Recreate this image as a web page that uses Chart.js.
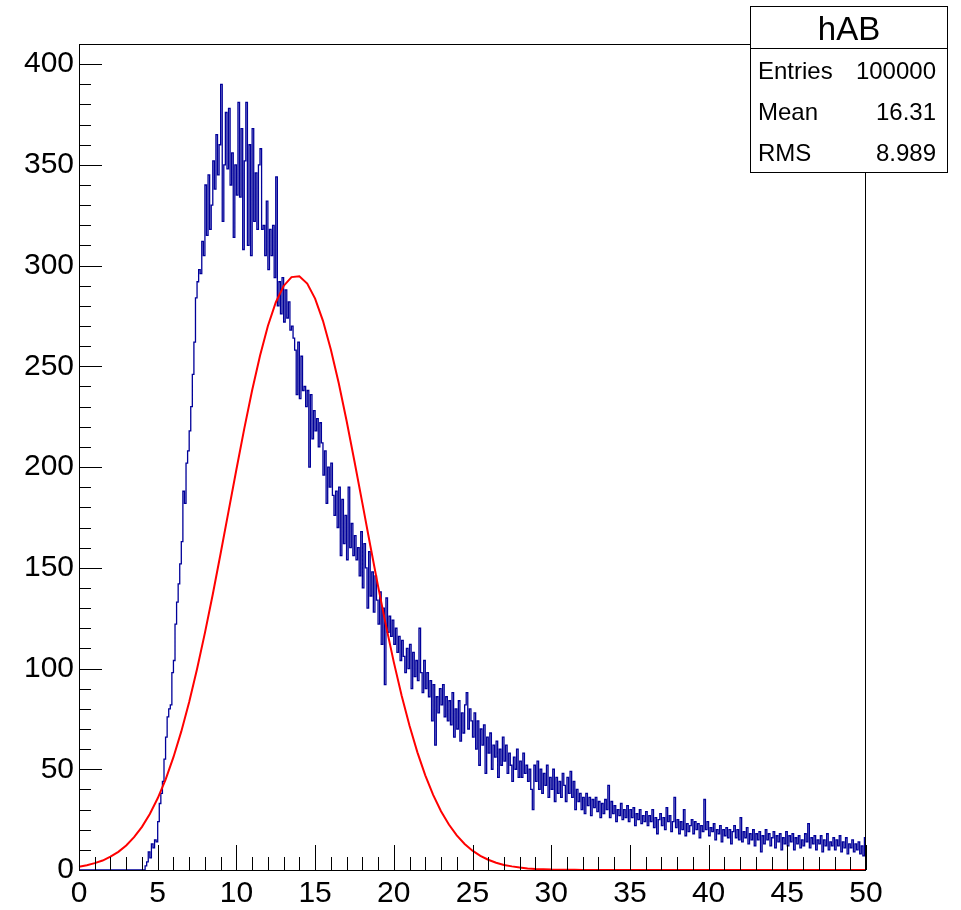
<!DOCTYPE html>
<html>
<head>
<meta charset="utf-8">
<script src="https://cdn.jsdelivr.net/npm/chart.js@4"></script>
<style>
  html, body { margin: 0; padding: 0; background: #fff; }
  #wrap { width: 961px; height: 910px; }
</style>
</head>
<body>
<div id="wrap"><canvas id="myChart" width="961" height="910"></canvas></div>
<script>
// histogram hAB, bins of 0.1 from 0 to 50
const binWidth = 0.1
const hABCounts = [
  0,0,0,0,0,0,0,0,0,0,
  0,0,0,0,0,0,0,0,0,0,
  0,0,0,0,0,0,0,0,0,0,
  0,0,0,0,0,0,0,0,0,0,
  0,0,2,4,9,6,13,11,15,14,
  24,33,38,44,55,66,76,80,82,98,
  104,122,133,142,152,163,188,182,202,208,
  218,230,246,262,284,292,298,296,312,305,
  340,315,345,318,330,352,338,365,345,360,
  390,322,350,376,348,378,340,356,314,350,
  335,381,334,368,308,352,381,310,360,305,
  368,322,346,318,350,358,318,320,305,332,
  298,318,305,320,294,344,280,292,276,294,
  272,288,274,282,268,270,264,258,236,262,
  234,255,238,240,230,238,200,236,214,228,
  218,224,210,222,212,196,208,182,200,190,
  202,186,176,188,170,190,156,184,162,176,
  154,190,160,172,156,166,154,160,146,168,
  140,162,150,130,158,136,148,128,146,134,
  122,138,112,130,92,135,118,126,116,124,
  112,120,108,116,104,114,106,98,110,100,
  112,90,108,96,104,94,120,98,88,104,
  90,98,86,94,74,92,62,86,78,90,
  82,92,76,86,74,84,72,88,66,80,
  70,84,64,78,68,82,88,70,80,74,
  66,78,60,74,52,70,62,72,48,66,
  58,68,50,62,56,64,46,60,52,66,
  54,62,48,58,52,44,56,50,60,46,
  54,46,58,48,52,44,50,40,30,52,
  44,54,40,50,38,48,42,52,36,46,
  40,50,34,46,38,44,36,48,42,34,
  46,38,49,36,44,30,40,34,38,30,
  36,28,38,32,36,27,35,31,36,29,
  34,26,33,28,35,30,42,26,34,28,
  32,24,30,27,33,25,30,26,32,24,
  30,26,31,22,28,25,30,23,27,24,
  29,22,27,24,30,21,26,18,25,28,
  22,26,20,31,24,27,19,24,36,21,
  25,18,24,20,30,17,23,19,22,25,
  18,24,20,23,16,22,19,35,20,24,
  17,21,19,23,15,20,18,22,14,20,
  17,21,16,20,13,19,22,16,20,15,
  26,14,19,16,21,13,18,15,20,12,
  18,15,19,9,17,13,20,15,18,12,
  16,19,11,17,14,18,10,16,13,19,
  12,17,14,18,10,16,13,17,11,15,
  12,18,14,23,11,16,13,17,10,15,
  13,17,9,15,12,18,10,14,12,16,
  10,15,12,17,9,14,11,16,8,13,
  11,15,9,13,10,14,8,12,7,16
]

// fit curve, sampled every 0.5
const fitStep = 0.5
const fitValues = [
  1.6,2.4,3.4,4.7,6.6,9.0,12.2,16.3,21.4,27.8,
  35.6,44.9,56.0,68.8,83.4,99.8,117.7,136.9,157.2,178.0,
  198.8,219.1,238.1,255.3,270.0,281.7,289.9,294.3,294.7,291.1,
  283.6,272.6,258.4,241.7,223.0,202.9,182.2,161.3,140.9,121.4,
  103.2,86.5,71.6,58.4,47.0,37.3,29.2,22.6,17.2,12.9,
  9.6,7.0,5.1,3.6,2.5,1.8,1.2,0.8,0.5,0.4,
  0.2,0.1,0.1,0.1,0,0,0,0,0,0,
  0,0,0,0,0,0,0,0,0,0,
  0,0,0,0,0,0,0,0,0,0,
  0,0,0,0,0,0,0,0,0,0,
  0
]

const statsTitle = 'hAB'
const statsLabels = ['Entries', 'Mean', 'RMS']
const statsValues = ['100000', '16.31', '8.989']

const xTicks = [0, 5, 10, 15, 20, 25, 30, 35, 40, 45, 50]
const yTicks = [0, 50, 100, 150, 200, 250, 300, 350, 400]

const FONT = '"Liberation Sans", Arial, Helvetica, sans-serif'

const histPoints = hABCounts.map((c, i) => ({ x: i * binWidth, y: c }))
histPoints.push({ x: hABCounts.length * binWidth, y: hABCounts[hABCounts.length - 1] })
const fitPoints = fitValues.map((v, i) => ({ x: i * fitStep, y: v }))

// ROOT style frame with ticks pointing inward
const framePlugin = {
  id: 'frame',
  afterDatasetsDraw(chart) {
    const { ctx, chartArea: a, scales } = chart
    ctx.save()
    ctx.strokeStyle = '#000'
    ctx.lineWidth = 1
    ctx.strokeRect(a.left + 0.5, a.top + 0.5, a.right - a.left - 1, a.bottom - a.top)
    ctx.beginPath()
    for (let v = 0; v <= 50; v += 1) {
      const px = Math.round(scales.x.getPixelForValue(v)) + 0.5
      const len = v % 5 === 0 ? 25 : 13
      ctx.moveTo(px, a.bottom)
      ctx.lineTo(px, a.bottom - len)
    }
    for (let v = 0; v <= 410; v += 10) {
      const py = Math.round(scales.y.getPixelForValue(v)) + 0.5
      const len = v % 50 === 0 ? 23 : 12
      ctx.moveTo(a.left, py)
      ctx.lineTo(a.left + len, py)
    }
    ctx.stroke()
    ctx.restore()
  },
  afterDraw(chart) {
    const ctx = chart.ctx
    const bx = 750.5, by = 6.5, bw = 197, bh = 166
    ctx.save()
    ctx.fillStyle = '#fff'
    ctx.fillRect(bx, by, bw, bh)
    ctx.strokeStyle = '#000'
    ctx.lineWidth = 1
    ctx.strokeRect(bx, by, bw, bh)
    ctx.beginPath()
    ctx.moveTo(bx, 48.5)
    ctx.lineTo(bx + bw, 48.5)
    ctx.stroke()
    ctx.fillStyle = '#000'
    ctx.textBaseline = 'alphabetic'
    ctx.font = '33px ' + FONT
    ctx.textAlign = 'center'
    ctx.fillText(statsTitle, bx + bw / 2, 40)
    ctx.font = '24px ' + FONT
    const baselines = [79, 120, 161]
    statsLabels.forEach((lab, i) => {
      ctx.textAlign = 'left'
      ctx.fillText(lab, 758, baselines[i])
      ctx.textAlign = 'right'
      ctx.fillText(statsValues[i], 936, baselines[i])
    })
    ctx.restore()
  }
}

const ctx = document.getElementById('myChart')
const myChart = new Chart(ctx, {
  type: 'line',
  data: {
    datasets: [
      {
        label: 'fit',
        data: fitPoints,
        borderColor: '#ff0000',
        borderWidth: 2,
        pointRadius: 0,
        tension: 0,
        fill: false,
        clip: { left: 1, right: 1, top: 1, bottom: 0 }
      },
      {
        label: 'hAB',
        data: histPoints,
        borderColor: '#000099',
        borderWidth: 1.3,
        pointRadius: 0,
        stepped: 'before',
        fill: false
      }
    ]
  },
  options: {
    responsive: false,
    animation: false,
    devicePixelRatio: 1,
    layout: { padding: { left: 0, top: 44, right: 95, bottom: 0 } },
    plugins: { legend: { display: false }, tooltip: { enabled: false } },
    scales: {
      x: {
        type: 'linear',
        min: 0,
        max: 50,
        grid: { display: false, drawTicks: false },
        border: { display: false },
        afterBuildTicks(s) { s.ticks = xTicks.map(v => ({ value: v })) },
        afterFit(s) { s.height = 40 },
        ticks: {
          color: '#000',
          font: { family: FONT, size: 30 },
          padding: 6,
          maxRotation: 0,
          autoSkip: false
        }
      },
      y: {
        type: 'linear',
        min: 0,
        max: 410,
        grid: { display: false, drawTicks: false },
        border: { display: false },
        afterBuildTicks(s) { s.ticks = yTicks.map(v => ({ value: v })) },
        afterFit(s) { s.width = 79 },
        ticks: {
          color: '#000',
          font: { family: FONT, size: 30 },
          padding: 5,
          autoSkip: false
        }
      }
    }
  },
  plugins: [framePlugin]
})
</script>
</body>
</html>
